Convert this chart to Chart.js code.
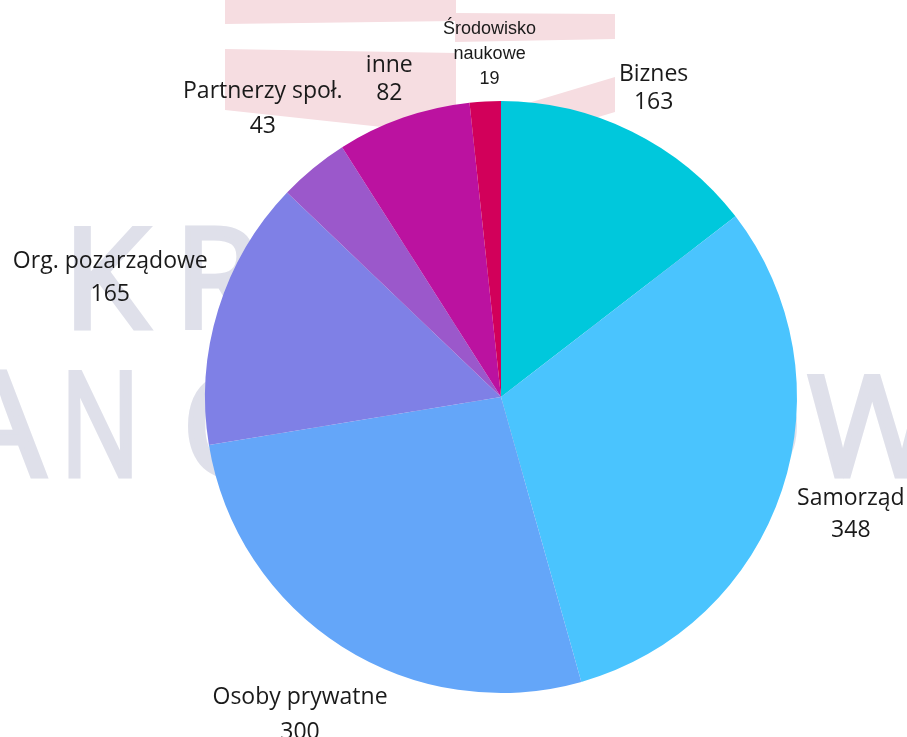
<!DOCTYPE html>
<html>
<head>
<meta charset="utf-8">
<script src="https://cdn.jsdelivr.net/npm/chart.js@4.4.1/dist/chart.umd.min.js"></script>
<style>
  html, body { margin: 0; padding: 0; background: #ffffff; }
  #wrap { position: relative; width: 907px; height: 737px; }
</style>
</head>
<body>
<div id="wrap"><canvas id="c"></canvas></div>
<script>
// ---- data ----
const categories = ['Biznes', 'Samorząd', 'Osoby prywatne', 'Org. pozarządowe', 'Partnerzy społ.', 'inne', 'Środowisko naukowe'];
const values = [163, 348, 300, 165, 43, 82, 19];
const labelLines = [['Biznes'], ['Samorząd'], ['Osoby prywatne'], ['Org. pozarządowe'], ['Partnerzy społ.'], ['inne'], ['Środowisko', 'naukowe']];

// ---- styles ----
const colors = ['#00c8dc', '#4ac4fe', '#64a6f9', '#7f80e6', '#9b58cb', '#bb12a0', '#d2005a'];

// per-label placement (distance from centre along slice mid-angle, line gap, font)
const labelStyle = [
  { dist: 345.7, dx: 0, gap: 28.3, size: 23, family: '"Open Sans", sans-serif', cap: 0.714 },
  { dist: 368.5, dx: 0, gap: 31.7, size: 23, family: '"Open Sans", sans-serif', cap: 0.714 },
  { dist: 374.4, dx: 0, gap: 35, size: 23, family: '"Open Sans", sans-serif', cap: 0.714 },
  { dist: 409, dx: 0, gap: 33.4, size: 23, family: '"Open Sans", sans-serif', cap: 0.714 },
  { dist: 375.4, dx: 0, gap: 35, size: 23, family: '"Open Sans", sans-serif', cap: 0.714 },
  { dist: 338.2, dx: 0, gap: 28.3, size: 23, family: '"Open Sans", sans-serif', cap: 0.714 },
  { dist: 345.2, dx: 7, gap: 25, size: 18, family: '"Liberation Sans", Arial, sans-serif', cap: 0.716 }
];

// background watermark (decorative logo behind the chart)
const watermarkPlugin = {
  id: 'watermark',
  beforeDraw(chart) {
    const ctx = chart.ctx;
    ctx.save();
    ctx.fillStyle = '#f6dde1';
    const polys = [
      [[225, 0], [456, 0], [456, 21], [225, 24]],
      [[455, 13], [615, 14], [615, 39], [455, 42]],
      [[225, 49], [456, 53], [456, 135], [225, 110]],
      [[615, 77], [615, 112], [455, 160], [455, 125]]
    ];
    polys.forEach(p => {
      ctx.beginPath();
      ctx.moveTo(p[0][0], p[0][1]);
      for (let i = 1; i < p.length; i++) ctx.lineTo(p[i][0], p[i][1]);
      ctx.closePath();
      ctx.fill();
    });
    ctx.fillStyle = '#dfe0ea';
    ctx.strokeStyle = '#dfe0ea';
    ctx.lineWidth = 5;
    ctx.lineJoin = 'miter';
    ctx.textBaseline = 'alphabetic';
    ctx.textAlign = 'left';
    const letter = (ch, x, base, size, sx) => {
      ctx.save();
      ctx.translate(x, base);
      ctx.scale(sx, 1);
      ctx.font = size + 'px "Open Sans", sans-serif';
      ctx.fillText(ch, 0, 0);
      ctx.strokeText(ch, 0, 0);
      ctx.restore();
    };
    // line 1
    letter('K', 63, 328, 140, 1);
    letter('R', 174, 328, 140, 1);
    letter('AJOWY', 260, 328, 140, 1);
    // line 2
    letter('A', -46, 476, 144, 1);
    letter('N', 60, 476, 144, 0.74);
    letter('O', 182, 476, 140, 1);
    letter('DBUD', 300, 476, 140, 1);
    letter('O', 694, 476, 140, 1);
    letter('W', 808, 476, 140, 1);
    ctx.restore();
  }
};

const labelPlugin = {
  id: 'outerLabels',
  afterDatasetsDraw(chart) {
    const ctx = chart.ctx;
    const meta = chart.getDatasetMeta(0);
    ctx.save();
    ctx.fillStyle = '#1a1a1a';
    ctx.textAlign = 'center';
    ctx.textBaseline = 'alphabetic';
    meta.data.forEach((arc, i) => {
      const p = arc.getProps(['x', 'y', 'startAngle', 'endAngle'], true);
      const mid = (p.startAngle + p.endAngle) / 2;
      const st = labelStyle[i];
      const cx = p.x + Math.cos(mid) * st.dist + st.dx;
      const cy = p.y + Math.sin(mid) * st.dist;
      const lines = labelLines[i].concat([String(values[i])]);
      const capH = st.cap * st.size;
      const H = capH + st.gap * (lines.length - 1);
      const top = cy - H / 2;
      ctx.font = st.size + 'px ' + st.family;
      lines.forEach((t, k) => {
        ctx.fillText(t, cx, top + capH + k * st.gap);
      });
    });
    ctx.restore();
  }
};

new Chart(document.getElementById('c'), {
  type: 'pie',
  data: {
    labels: categories,
    datasets: [{
      data: values,
      backgroundColor: colors,
      borderWidth: 0,
      hoverOffset: 0
    }]
  },
  options: {
    responsive: true,
    maintainAspectRatio: false,
    animation: false,
    layout: { padding: { left: 205, right: 110, top: 101, bottom: 44 } },
    plugins: {
      legend: { display: false },
      tooltip: { enabled: false }
    }
  },
  plugins: [watermarkPlugin, labelPlugin]
});
</script>
</body>
</html>
